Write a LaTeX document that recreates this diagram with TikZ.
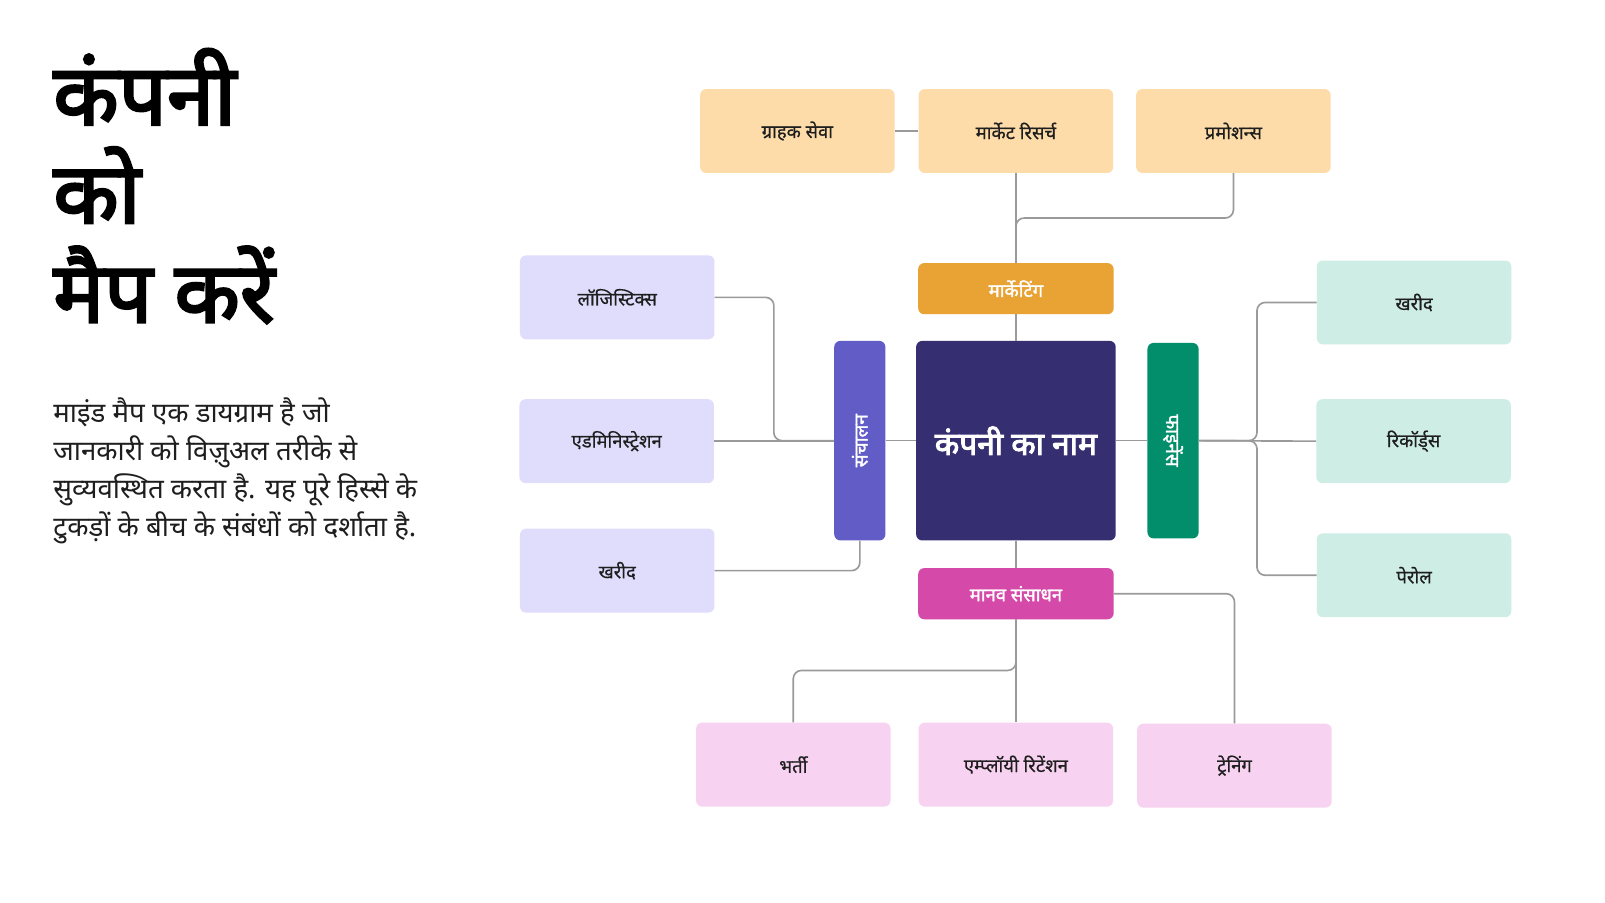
\documentclass[tikz,border=0pt]{standalone}
\usepackage{fontspec}
\setmainfont[Script=Devanagari]{Noto Sans}
\newfontfamily\devbold[Script=Devanagari,FakeBold=3]{Noto Sans}
\newfontfamily\devsemi[Script=Devanagari,FakeBold=1.6]{Noto Sans}
\newfontfamily\devmed[Script=Devanagari,FakeBold=0.6]{Noto Sans}
\definecolor{peach}{HTML}{FDDCA9}
\definecolor{mktc}{HTML}{E9A334}
\definecolor{lav}{HTML}{E0DCFC}
\definecolor{opsc}{HTML}{625DC6}
\definecolor{navy}{HTML}{352E70}
\definecolor{finc}{HTML}{038E6B}
\definecolor{mint}{HTML}{CDEDE5}
\definecolor{hrc}{HTML}{D549A9}
\definecolor{pinkl}{HTML}{F8D3F1}
\definecolor{linec}{HTML}{9A9A9A}
\definecolor{ink}{HTML}{1E1E1E}
\tikzset{
  leaf/.style={rounded corners=6pt, minimum width=190pt, minimum height=82pt, inner sep=0pt, text=ink, font=\devmed\fontsize{18}{20}\selectfont},
  hub/.style={rounded corners=6pt, minimum width=191pt, minimum height=50pt, inner sep=0pt, text=white, font=\devsemi\fontsize{18}{20}\selectfont},
  bar/.style={rounded corners=6pt, minimum width=50pt, minimum height=195pt, inner sep=0pt, text=white, font=\devsemi\fontsize{18.5}{20}\selectfont},
  conn/.style={draw=linec, line width=1.6pt, rounded corners=8pt},
  titletext/.style={anchor=base west, inner sep=0pt, font=\devbold\fontsize{83}{97}\selectfont},
  paratext/.style={anchor=base west, inner sep=0pt, font=\fontsize{27}{37}\selectfont, text=ink}
}
\begin{document}
\begin{tikzpicture}[x=1pt,y=-1pt]
\useasboundingbox[fill=white] (0,0) rectangle (1568,882);
% title
\node[titletext] (t1) at (52,122) {कंपनी};
\node[titletext] (t2) at (52,218) {को};
\node[titletext] (t3) at (52,315) {मैप करें};
% paragraph
\node[paratext] (p1) at (52,413) {माइंड मैप एक डायग्राम है जो};
\node[paratext] (p2) at (52,450) {जानकारी को विज़ुअल तरीके से};
\node[paratext] (p3) at (52,487) {सुव्यवस्थित करता है. यह पूरे हिस्से के};
\node[paratext] (p4) at (52,524) {टुकड़ों के बीच के संबंधों को दर्शाता है.};
% nodes
\node[leaf, fill=peach] (gs) at (779,128) {ग्राहक सेवा};
\node[leaf, fill=peach] (mr) at (992.5,128) {मार्केट रिसर्च};
\node[leaf, fill=peach] (pr) at (1205,128) {प्रमोशन्स};
\node[hub, fill=mktc] (mkt) at (992.5,282) {मार्केटिंग};
\node[leaf, fill=lav] (log) at (603,290.5) {लॉजिस्टिक्स};
\node[leaf, fill=lav] (adm) at (602.5,431) {एडमिनिस्ट्रेशन};
\node[leaf, fill=lav] (kh1) at (603,557.5) {खरीद};
\node[bar, fill=opsc] (ops) at (840,430.5) {\rotatebox{90}{संचालन}};
\node[rounded corners=6pt, minimum width=195pt, minimum height=195pt, inner sep=0pt, fill=navy, text=white, font=\devbold\fontsize{31}{34}\selectfont] (ctr) at (992.5,430.5) {कंपनी का नाम};
\node[bar, fill=finc, minimum height=191pt] (fin) at (1146,430.5) {\rotatebox{-90}{फाइनेंस}};
\node[leaf, fill=mint] (kh2) at (1381.5,295.5) {खरीद};
\node[leaf, fill=mint] (rec) at (1381,431) {रिकॉर्ड्स};
\node[leaf, fill=mint] (pay) at (1381.5,562) {पेरोल};
\node[hub, fill=hrc] (hr) at (992.5,580) {मानव संसाधन};
\node[leaf, fill=pinkl] (bh) at (775,747) {भर्ती};
\node[leaf, fill=pinkl] (ret) at (992.5,747) {एम्प्लॉयी रिटेंशन};
\node[leaf, fill=pinkl] (tr) at (1206,748) {ट्रेनिंग};
% junction coordinates
\coordinate (jt) at (992.5,213);
\coordinate (jl) at (756,430.5);
\coordinate (jr) at (1228,430.5);
\coordinate (jb) at (992.5,655);
% connectors
\draw[conn] (gs.east) -- (gs.east -| mr.west);
\draw[conn] (mr.south) -- (mkt.north);
\draw[conn] (pr.south) |- (jt) -- (mkt.north);
\draw[conn] (mkt.south) -- (ctr.north);
\draw[conn] (log.east) -| (jl) -- (ops.west);
\draw[conn] (adm.east) -- (adm.east -| ops.west);
\draw[conn] (kh1.east) -| (ops.south);
\draw[conn] (ops.east) -- (ctr.west);
\draw[conn] (ctr.east) -- (fin.west);
\draw[conn] (fin.east) -- (rec.west);
\draw[conn] (fin.east) -- (jr) |- (kh2.west);
\draw[conn] (fin.east) -- (jr) |- (pay.west);
\draw[conn] (ctr.south) -- (hr.north);
\draw[conn] (hr.south) -- (ret.north);
\draw[conn] (hr.south) -- (jb) -| (bh.north);
\draw[conn] (hr.east) -| (tr.north);
\end{tikzpicture}
\end{document}
